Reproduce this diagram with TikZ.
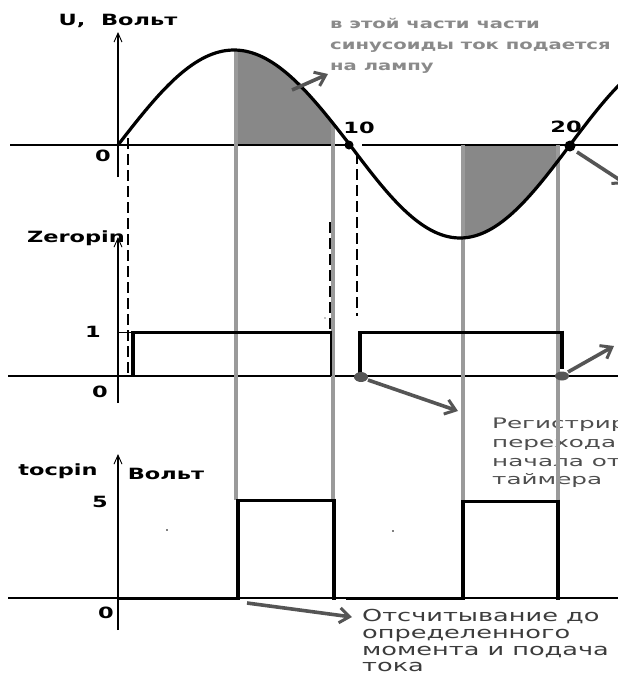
\documentclass[tikz,border=0pt]{standalone}
\usepackage{fontspec}
\setmainfont{DejaVu Sans}[FakeStretch=1.45]
\newfontfamily\widefont{DejaVu Sans}[FakeStretch=1.7]
\newfontfamily\bottomfont{DejaVu Sans}[FakeStretch=1.55]
\usetikzlibrary{arrows.meta}
\definecolor{guidegray}{HTML}{9A9A9A}
\definecolor{shadegray}{HTML}{888888}
\definecolor{callgray}{HTML}{555555}
\definecolor{notegray}{HTML}{8A8A8A}
\definecolor{textdark}{HTML}{3C3C3C}
\definecolor{textmid}{HTML}{4E4E4E}
\begin{document}
\begin{tikzpicture}[x=1pt,y=-1pt,
  axis/.style={line width=1.1pt,black},
  axarrow/.style={axis,-{Straight Barb[length=9pt,width=8pt,line width=0.9pt]}},
  curve/.style={line width=3.2pt,black},
  guide/.style={line width=3.3pt,guidegray},
  dashv/.style={line width=1.1pt,black,dash pattern=on 11pt off 5pt},
  pulse/.style={line width=3pt,black},
  edgev/.style={line width=4.2pt,black},
  callout/.style={line width=3.6pt,callgray,-{Straight Barb[length=10pt,width=15pt,line width=3pt]}},
  lab/.style={font=\bfseries\fontsize{15.5}{18}\selectfont,inner sep=0pt},
  num/.style={font=\bfseries\fontsize{15.5}{18}\selectfont,inner sep=0pt},
  note/.style={font=\bfseries\fontsize{13.5}{16}\selectfont,text=notegray,inner sep=0pt,anchor=base west},
  rnote/.style={font=\widefont\fontsize{14.5}{17}\selectfont,text=textmid,inner sep=0pt,anchor=base west},
  bnote/.style={font=\bottomfont\fontsize{16.5}{19}\selectfont,text=textdark,inner sep=0pt,anchor=base west}
]
\useasboundingbox (0,0) rectangle (618,675);
\clip (0,0) rectangle (618,675);
\fill[white] (0,0) rectangle (618,675);

% shaded parts of the sine
\fill[shadegray] (236,145) -- plot[domain=236:333,samples=40] (\x,{145-95*sin((\x-118)/232*180)}) -- (333,145) -- cycle;
\fill[shadegray] (463,145) -- plot[domain=463:558,samples=40] (\x,{145+93*sin((\x-350)/220*180)}) -- (558,145) -- cycle;

% texts on the right (behind the guides)
\node[note] (n1) at (330,28) {в этой части части};
\node[note] (n2) at (330,49) {синусоиды ток подается};
\node[note] (n3) at (330,70) {на лампу};
\node[rnote] (r1) at (492,428) {Регистрир};
\node[rnote] (r2) at (492,447) {перехода};
\node[rnote] (r3) at (492,466) {начала от};
\node[rnote] (r4) at (492,484) {таймера};
\node[bnote] (b1) at (362,621) {Отсчитывание до};
\node[bnote] (b2) at (362,638.5) {определенного};
\node[bnote] (b3) at (362,655.5) {момента и подача};
\node[bnote] (b4) at (362,671.5) {тока};

% axes
\draw[axis] (10,145) -- (345,145);
\draw[axis] (362,145) -- (618,145);
\draw[axarrow] (118,177) -- (118,32);
\draw[axis] (8,376) -- (618,376);
\draw[axarrow] (118,403) -- (118,237);
\draw[axis] (8,598) -- (618,598);
\draw[axarrow] (118,630) -- (118,454);

% grey guide lines
\draw[guide] (236,50) -- (236,500);
\draw[guide] (333,123) -- (333,500);
\draw[guide] (463,145) -- (463,501);
\draw[guide] (558,145) -- (558,501);

% dashed guides
\draw[dashv] (128,138) -- (128,376);
\draw[dashv] (357,153) -- (357,316);
\draw[dashv] (330,222) -- (330,330);

% sine curve
\draw[curve] plot[domain=118:350,samples=70] (\x,{145-95*sin((\x-118)/232*180)})
  -- plot[domain=350:625,samples=80] (\x,{145+93*sin((\x-350)/220*180)});

% Zeropin pulses
\draw[line width=0.8pt] (118,332) -- (133,332);
\draw[edgev] (133,376) -- (133,330.5);
\draw[pulse] (133,332) -- (331,332);
\draw[line width=2pt] (330.5,331) -- (330.5,376);
\draw[edgev] (360,376) -- (360,330.5);
\draw[pulse] (360,332) -- (562,332);
\draw[edgev] (562,330.5) -- (562,369);

% tocpin pulses
\draw[pulse] (118,598) -- (238,598);
\draw[edgev] (238,599.5) -- (238,498.5);
\draw[pulse] (238,500) -- (334,500);
\draw[edgev] (334,498.5) -- (334,599.5);
\draw[pulse] (346,598) -- (463,598);
\draw[edgev] (463,599.5) -- (463,499.5);
\draw[pulse] (463,501) -- (558,501);
\draw[edgev] (558,499.5) -- (558,599.5);

% points
\coordinate (z10) at (349,145);
\coordinate (z20) at (570,146);
\fill[black] (z10) circle[radius=4.5pt];
\fill[black] (z20) circle[radius=5.5pt];
\coordinate (d1) at (361,377);
\coordinate (d2) at (562,376);
\fill[callgray] (d1) ellipse[x radius=7pt,y radius=5pt];
\fill[callgray] (d2) ellipse[x radius=7pt,y radius=4.5pt];
\fill[black] (167,530) circle[radius=0.8pt];
\fill[black] (393,531) circle[radius=0.8pt];
\fill[black] (325,318) circle[radius=0.7pt];

% callout arrows
\coordinate (a1s) at (292,90);  \coordinate (a1e) at (328,74);
\coordinate (a2s) at (368,380); \coordinate (a2e) at (458,411);
\coordinate (a3s) at (568,372); \coordinate (a3e) at (614,346);
\coordinate (a4s) at (247,603); \coordinate (a4e) at (352,617);
\coordinate (a5s) at (577,152); \coordinate (a5e) at (626,184);
\draw[callout] (a1s) -- (a1e);
\draw[callout] (a2s) -- (a2e);
\draw[callout] (a3s) -- (a3e);
\draw[callout] (a4s) -- (a4e);
\draw[callout] (a5s) -- (a5e);

% labels
\node[lab] (ulab) at (118,21) {U,\ \ Вольт};
\node[num] (u0) at (103,156) {0};
\node[num] (t10) at (359,128) {10};
\node[num] (t20) at (566,127) {20};
\node[lab] (zlab) at (76,238) {Zeropin};
\node[num] (z1) at (93,332) {1};
\node[num] (z0) at (100,392) {0};
\node[lab] (tlab) at (58,471) {tocpin};
\node[lab] (vlab) at (166,474) {Вольт};
\node[num] (t5) at (100,502) {5};
\node[num] (t0) at (106,613) {0};
\end{tikzpicture}
\end{document}
